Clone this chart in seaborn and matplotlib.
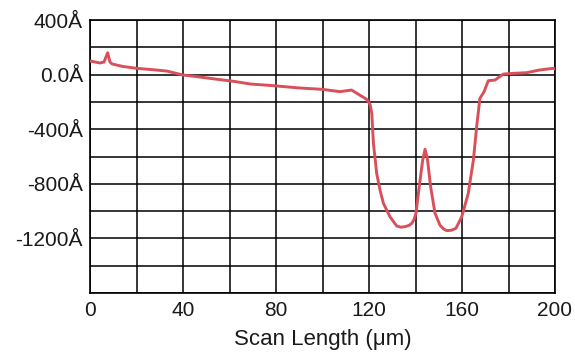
import matplotlib
matplotlib.use("Agg")
import matplotlib.pyplot as plt
import seaborn as sns
import pandas as pd
import numpy as np

scan_um = [0, 4.3, 6, 7.6, 8.6, 9.5, 14, 20, 27, 33, 40, 46, 55, 62, 69, 78, 90, 100,
           107.5, 112.5, 116, 119, 120.5, 121.2, 121.9, 123.3, 124.8, 126.2, 129, 131.9,
           133.7, 135.5, 137.2, 138.4, 139.4, 140.2, 141.6, 143.1, 144.1, 145.1, 146.5,
           148.4, 150.5, 152, 153.4, 155.5, 157.4, 159.9, 162.7, 164.9, 166.3, 167.7,
           169.5, 171.3, 174.2, 177.8, 182, 187.8, 193.5, 199.3, 200]
height_A = [100, 85, 92, 160, 92, 78, 60, 46, 36, 26, -3, -15, -35, -50, -69, -80, -98, -108,
            -125, -113, -150, -181, -220, -284, -503, -723, -850, -943, -1041, -1109,
            -1118, -1114, -1105, -1090, -1060, -1016, -821, -626, -547, -613, -821,
            -1016, -1102, -1130, -1143, -1140, -1126, -1041, -870, -626, -382, -174,
            -125, -45, -40, 4, 9, 14, 34, 46, 40]

x_ticks = [0, 40, 80, 120, 160, 200]
y_ticks = [400, 0, -400, -800, -1200]
y_tick_labels = ["400Å", "0.0Å", "-400Å", "-800Å", "-1200Å"]

sns.set_style("white")
plt.rcParams['font.family'] = ['Liberation Sans', 'DejaVu Sans']

fig = plt.figure(figsize=(5.75, 3.55), dpi=100)
ax = fig.add_axes([90/575, 1-293/355, 465/575, 273/355])

df = pd.DataFrame({"x": scan_um, "y": height_A})
sns.lineplot(data=df, x="x", y="y", ax=ax, color="#d9505a", linewidth=2.1, zorder=3)

ax.set_xlim(0, 200)
ax.set_ylim(-1600, 400)
ax.set_xticks(np.arange(0, 201, 20), minor=True)
ax.set_yticks(np.arange(-1600, 401, 200), minor=True)
ax.set_xticks(x_ticks)
ax.set_yticks(y_ticks)
ax.set_yticklabels(y_tick_labels)
ax.grid(True, which="both", color="black", linewidth=1.1)
ax.tick_params(which="both", length=0, labelsize=15, colors="#1a1a1a")
ax.tick_params(axis="x", pad=6)
ax.tick_params(axis="y", pad=5)
for s in ax.spines.values():
    s.set_color("black")
    s.set_linewidth(1.2)
ax.set_xlabel("Scan Length (μm)", fontsize=16, labelpad=6, color="#1a1a1a")
ax.set_ylabel("")

fig.savefig("out.png", dpi=100)
